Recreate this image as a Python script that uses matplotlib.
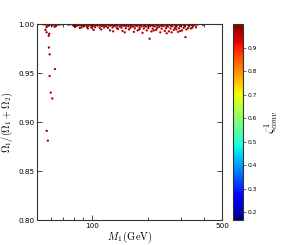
import matplotlib
matplotlib.use("Agg")
import matplotlib.pyplot as plt
import matplotlib.ticker as mticker
from matplotlib.colors import Normalize
from matplotlib.cm import ScalarMappable

plt.rcParams['mathtext.fontset'] = 'cm'
plt.rcParams['font.family'] = ['DejaVu Sans']

# ---- data ----
# scattered outliers
m1_low = [57.1, 57.9, 58.7, 59.2, 59.2, 63.2, 60.0, 61.2, 57.0, 56.2,
          58.5, 58.9, 204.0, 318.0, 395.0]
omega_low = [0.891, 0.881, 0.976, 0.969, 0.947, 0.954, 0.930, 0.924, 0.9915, 0.994,
             0.988, 0.990, 0.985, 0.9866, 0.9992]
zeta_low = [0.97, 0.96, 0.98, 0.97, 0.96, 0.97, 0.95, 0.96, 0.98, 0.98,
            0.97, 0.98, 0.97, 0.96, 0.97]

# dense band near 1
m1_band = [54.8, 56.5, 60.5, 62.0, 63.5, 65.0, 66.8, 69.0, 75.0, 78.5,
           80.5, 82.5, 84.5, 86.5, 88.5, 90.5, 92.5, 95.0, 97.5, 100.0,
           103.0, 106.0, 109.0, 112.0, 115.0, 118.0, 121.0, 124.5, 128.0, 131.5,
           135.0, 139.0, 143.0, 147.0, 151.0, 155.0, 159.5, 164.0, 168.5, 173.0,
           178.0, 183.0, 188.0, 193.0, 198.5, 204.0, 210.0, 216.0, 222.0, 228.0,
           234.0, 241.0, 248.0, 255.0, 262.0, 269.0, 277.0, 285.0, 293.0, 301.0,
           309.0, 318.0, 327.0, 336.0, 345.0, 355.0, 365.0,
           58.0, 61.0, 64.0, 79.5, 83.0, 87.0, 91.0, 96.0, 101.0, 107.0,
           113.0, 119.0, 126.0, 133.0, 141.0, 149.0, 157.0, 166.0, 175.0, 185.0,
           195.0, 206.0, 218.0, 230.0, 243.0, 256.0, 270.0, 285.0, 300.0, 316.0,
           333.0, 350.0,
           57.0, 63.0, 81.0, 88.0, 94.0, 99.0, 104.0, 110.0, 116.0, 122.0,
           129.0, 136.0, 144.0, 152.0, 161.0, 170.0, 180.0, 190.0, 201.0, 212.0,
           224.0, 237.0, 250.0, 264.0, 279.0, 294.0, 311.0, 328.0, 346.0, 362.0,
           112.0, 125.0, 138.0, 146.0, 158.0, 168.0, 176.0, 187.0, 197.0, 209.0,
           221.0, 233.0, 246.0, 259.0, 275.0, 290.0, 305.0, 322.0, 340.0, 95.0,
           86.0, 102.0, 130.0, 180.0, 215.0, 252.0, 268.0, 284.0, 298.0, 150.0,
           55.5, 59.0, 61.8, 64.2, 66.0, 77.0, 79.0, 81.5, 83.5, 85.5,
           87.5, 89.5, 91.5, 93.8, 96.2, 98.8, 101.5, 104.5, 107.5, 110.5,
           113.5, 116.5, 119.5, 122.8, 126.2, 129.8, 133.2, 137.0, 141.0, 145.0,
           149.0, 153.0, 157.2, 161.8, 166.2, 170.8, 175.5, 180.5, 185.5, 190.5,
           195.8, 201.2, 207.0, 213.0, 219.0, 225.0, 231.0, 237.5, 244.5, 251.5,
           258.5, 265.5, 273.0, 281.0, 289.0, 297.0, 305.0, 313.5, 322.5, 331.5,
           340.5, 350.0, 360.0, 370.0]
omega_band = [0.9997, 0.9993, 0.9998, 0.9995, 0.9991, 0.9996, 0.9994, 0.9998, 0.9992, 0.9996,
              0.9994, 0.9998, 0.9991, 0.9995, 0.9997, 0.9992, 0.9996, 0.9993, 0.9998, 0.9994,
              0.9991, 0.9996, 0.9993, 0.9998, 0.9990, 0.9995, 0.9997, 0.9992, 0.9996, 0.9989,
              0.9994, 0.9998, 0.9991, 0.9995, 0.9988, 0.9996, 0.9993, 0.9990, 0.9997, 0.9992,
              0.9995, 0.9989, 0.9996, 0.9991, 0.9994, 0.9997, 0.9990, 0.9995, 0.9992, 0.9996,
              0.9989, 0.9994, 0.9997, 0.9991, 0.9995, 0.9990, 0.9996, 0.9992, 0.9994, 0.9989,
              0.9995, 0.9991, 0.9996, 0.9993, 0.9990, 0.9995, 0.9993,
              0.9982, 0.9985, 0.9980, 0.9984, 0.9981, 0.9986, 0.9980, 0.9983, 0.9979, 0.9984,
              0.9980, 0.9977, 0.9983, 0.9979, 0.9975, 0.9981, 0.9977, 0.9974, 0.9980, 0.9976,
              0.9973, 0.9979, 0.9975, 0.9972, 0.9978, 0.9974, 0.9977, 0.9973, 0.9979, 0.9975,
              0.9978, 0.9981,
              0.9968, 0.9972, 0.9970, 0.9966, 0.9969, 0.9964, 0.9967, 0.9962, 0.9966, 0.9961,
              0.9965, 0.9959, 0.9963, 0.9957, 0.9962, 0.9956, 0.9960, 0.9954, 0.9959, 0.9953,
              0.9958, 0.9952, 0.9957, 0.9955, 0.9960, 0.9956, 0.9961, 0.9958, 0.9963, 0.9967,
              0.9945, 0.9935, 0.9950, 0.9930, 0.9945, 0.9920, 0.9935, 0.9910, 0.9935, 0.9925,
              0.9940, 0.9915, 0.9930, 0.9925, 0.9940, 0.9920, 0.9935, 0.9945, 0.9955, 0.9955,
              0.9960, 0.9940, 0.9925, 0.9945, 0.9935, 0.9905, 0.9915, 0.9945, 0.9928, 0.9915,
              0.9999, 0.9986, 0.9999, 0.9988, 0.9999, 0.9999, 0.9999, 0.9987, 0.9999, 0.9988,
              0.9999, 0.9987, 0.9999, 0.9986, 0.9999, 0.9987, 0.9999, 0.9986, 0.9999, 0.9985,
              0.9999, 0.9986, 0.9999, 0.9984, 0.9999, 0.9985, 0.9999, 0.9983, 0.9999, 0.9984,
              0.9999, 0.9983, 0.9999, 0.9982, 0.9999, 0.9983, 0.9999, 0.9982, 0.9999, 0.9981,
              0.9999, 0.9982, 0.9999, 0.9981, 0.9999, 0.9982, 0.9999, 0.9981, 0.9999, 0.9982,
              0.9999, 0.9983, 0.9999, 0.9982, 0.9999, 0.9983, 0.9999, 0.9984, 0.9999, 0.9985,
              0.9999, 0.9986, 0.9999, 0.9998]
zeta_band = [0.99, 0.98, 0.99, 0.97, 0.99, 0.98, 0.99, 0.98, 0.97, 0.99,
             0.98, 0.99, 0.97, 0.98, 0.99, 0.98, 0.99, 0.97, 0.99, 0.98,
             0.99, 0.98, 0.97, 0.99, 0.98, 0.99, 0.98, 0.97, 0.99, 0.98,
             0.99, 0.97, 0.98, 0.99, 0.98, 0.99, 0.97, 0.98, 0.99, 0.98,
             0.99, 0.98, 0.97, 0.99, 0.98, 0.99, 0.98, 0.97, 0.99, 0.98,
             0.99, 0.97, 0.98, 0.99, 0.98, 0.99, 0.97, 0.98, 0.99, 0.98,
             0.99, 0.98, 0.97, 0.99, 0.98, 0.99, 0.98,
             0.98, 0.97, 0.98, 0.99, 0.97, 0.98, 0.99, 0.98, 0.97, 0.98,
             0.99, 0.98, 0.97, 0.98, 0.99, 0.97, 0.98, 0.99, 0.98, 0.97,
             0.98, 0.99, 0.98, 0.97, 0.98, 0.99, 0.97, 0.98, 0.98, 0.99,
             0.97, 0.98,
             0.97, 0.98, 0.97, 0.96, 0.98, 0.97, 0.98, 0.96, 0.97, 0.98,
             0.97, 0.96, 0.98, 0.97, 0.98, 0.96, 0.97, 0.98, 0.97, 0.96,
             0.98, 0.97, 0.98, 0.96, 0.97, 0.98, 0.97, 0.96, 0.98, 0.97,
             0.96, 0.97, 0.96, 0.95, 0.97, 0.96, 0.97, 0.95, 0.96, 0.97,
             0.96, 0.95, 0.97, 0.96, 0.97, 0.95, 0.96, 0.97, 0.96, 0.97,
             0.96, 0.97, 0.96, 0.97, 0.96, 0.95, 0.96, 0.97, 0.96, 0.95,
             0.99, 0.98, 0.99, 0.98, 0.99, 0.99, 0.99, 0.98, 0.99, 0.98,
             0.99, 0.98, 0.99, 0.98, 0.99, 0.98, 0.99, 0.98, 0.99, 0.98,
             0.99, 0.98, 0.99, 0.98, 0.99, 0.98, 0.99, 0.98, 0.99, 0.98,
             0.99, 0.98, 0.99, 0.98, 0.99, 0.98, 0.99, 0.98, 0.99, 0.98,
             0.99, 0.98, 0.99, 0.98, 0.99, 0.98, 0.99, 0.98, 0.99, 0.98,
             0.99, 0.98, 0.99, 0.98, 0.99, 0.98, 0.99, 0.98, 0.99, 0.98,
             0.99, 0.98, 0.99, 0.99]

x_major = [100, 500]
x_minor = [60, 70, 80, 90, 200, 300, 400]
y_ticks = [0.80, 0.85, 0.90, 0.95, 1.00]
cbar_ticks = [0.2, 0.3, 0.4, 0.5, 0.6, 0.7, 0.8, 0.9]
zeta_min, zeta_max = 0.166, 1.0

# ---- figure ----
fig = plt.figure(figsize=(2.98, 2.45), dpi=100)
ax = fig.add_axes([0.124, 0.102, 0.621, 0.800])
cax = fig.add_axes([0.782, 0.102, 0.034, 0.800])

norm = Normalize(vmin=zeta_min, vmax=zeta_max)
cmap = plt.get_cmap('jet')

ax.scatter(m1_band, omega_band, c=zeta_band, cmap=cmap, norm=norm,
           s=2.8, marker='o', linewidths=0)
ax.scatter(m1_low, omega_low, c=zeta_low, cmap=cmap, norm=norm,
           s=2.8, marker='o', linewidths=0)

ax.set_xscale('log')
ax.set_xlim(50.6, 500)
ax.set_ylim(0.80, 1.00)
ax.xaxis.set_major_locator(mticker.FixedLocator(x_major))
ax.xaxis.set_minor_locator(mticker.FixedLocator(x_minor))
ax.xaxis.set_major_formatter(mticker.FixedFormatter([str(v) for v in x_major]))
ax.xaxis.set_minor_formatter(mticker.NullFormatter())
ax.set_yticks(y_ticks)
ax.yaxis.set_major_formatter(mticker.FormatStrFormatter('%.2f'))
ax.tick_params(which='both', direction='in', top=True, right=True,
               labelsize=5.2, width=0.5, pad=2)
ax.tick_params(which='major', length=3.5)
ax.tick_params(which='minor', length=2)
for sp in ax.spines.values():
    sp.set_linewidth(0.8)
    sp.set_color('#333333')

ax.set_xlabel(r'$M_1\,(\mathrm{GeV})$', fontsize=7.5, labelpad=1)
ax.set_ylabel(r'$\Omega_1/(\Omega_1+\Omega_2)$', fontsize=7.3)
ax.yaxis.set_label_coords(-0.118, 0.5)

sm = ScalarMappable(norm=norm, cmap=cmap)
cb = fig.colorbar(sm, cax=cax, ticks=cbar_ticks)
cb.ax.tick_params(labelsize=4.3, width=0.4, length=2, pad=1.5)
cb.ax.yaxis.set_major_formatter(mticker.FormatStrFormatter('%.1f'))
cb.outline.set_linewidth(0.8)
cb.outline.set_edgecolor('#333333')
cb.set_label(r'$\zeta^1_{conv}$', fontsize=8.5, labelpad=3)

fig.savefig('out.png', dpi=100)
